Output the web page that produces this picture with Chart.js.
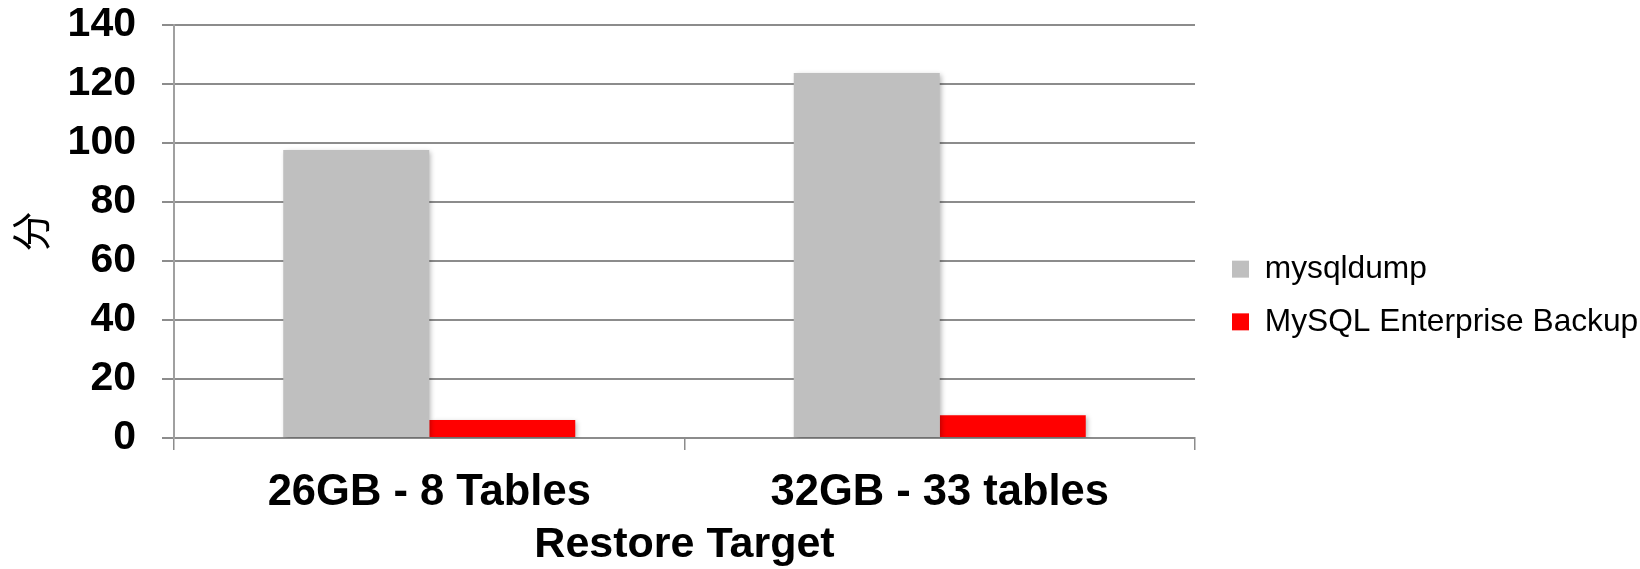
<!DOCTYPE html>
<html>
<head>
<meta charset="utf-8">
<script src="https://cdn.jsdelivr.net/npm/chart.js@4"></script>
<style>
  html, body { margin: 0; padding: 0; background: #fff; }
  #wrap { width: 1640px; height: 569px; }
</style>
</head>
<body>
<div id="wrap"><canvas id="c"></canvas></div>
<script>
const categories = ["26GB - 8 Tables", "32GB - 33 tables"];
const mysqldump = [97.6, 123.7];
const enterpriseBackup = [6.1, 7.7];
const yTicks = [0, 20, 40, 60, 80, 100, 120, 140];

const FONT = "'Liberation Sans', Arial, 'Noto Sans CJK SC', sans-serif";
const GRID = "#8c8c8c";

const barShadow = {
  id: "barShadow",
  beforeDatasetsDraw(chart) {
    const ctx = chart.ctx;
    ctx.save();
    ctx.shadowColor = "rgba(0,0,0,0.28)";
    ctx.shadowBlur = 5;
    ctx.shadowOffsetX = 2;
    ctx.shadowOffsetY = 2;
  },
  afterDatasetsDraw(chart) {
    chart.ctx.restore();
  }
};

// leave some white space between the plot and the legend
const legendGap = {
  id: "legendGap",
  afterLayout(chart) {
    const lg = chart.legend;
    if (!lg) return;
    lg.left += 16;
    lg.right = chart.width;
    lg.width = lg.right - lg.left;
  }
};

new Chart(document.getElementById("c"), {
  type: "bar",
  data: {
    labels: categories,
    datasets: [
      { label: "mysqldump", data: mysqldump, backgroundColor: "#bfbfbf", borderWidth: 0 },
      { label: "MySQL Enterprise Backup", data: enterpriseBackup, backgroundColor: "#ff0000", borderWidth: 0 }
    ]
  },
  plugins: [barShadow, legendGap],
  options: {
    responsive: true,
    maintainAspectRatio: false,
    animation: false,
    layout: { padding: { top: 22, left: 0, right: 0, bottom: 0 } },
    datasets: { bar: { categoryPercentage: 0.572, barPercentage: 1.0 } },
    plugins: {
      tooltip: { enabled: false },
      legend: {
        position: "right",
        align: "center",
        labels: {
          boxWidth: 17,
          boxHeight: 17,
          padding: 21,
          color: "#000",
          font: { family: FONT, size: 31.7 }
        }
      }
    },
    scales: {
      x: {
        afterFit(s) {
          s.height = 131;
          s.paddingRight = 445;
        },
        grid: {
          drawOnChartArea: false,
          drawTicks: true,
          tickLength: 12,
          color: GRID,
          lineWidth: 1.5
        },
        border: { color: GRID, width: 2 },
        ticks: {
          color: "#000",
          padding: 17,
          font: { family: FONT, size: 43.5, weight: "bold" }
        },
        title: {
          display: true,
          text: "Restore Target",
          color: "#000",
          padding: { top: 0, bottom: 0 },
          font: { family: FONT, size: 43, weight: "bold", lineHeight: 1.1 }
        }
      },
      y: {
        min: 0,
        max: 140,
        afterFit(s) {
          s.width = 174;
          s.paddingTop = 25;
          s.paddingBottom = 0;
        },
        afterBuildTicks(scale) {
          scale.ticks = yTicks.map((v) => ({ value: v }));
        },
        grid: {
          color: GRID,
          lineWidth: 2,
          tickLength: 12
        },
        border: { color: "#a0a0a0", width: 2 },
        ticks: {
          color: "#000",
          padding: 26,
          font: { family: FONT, size: 41, weight: "bold" }
        },
        title: {
          display: true,
          text: "分",
          color: "#000",
          padding: { top: 7, bottom: 0 },
          font: { family: "'Noto Sans CJK SC', sans-serif", size: 40, weight: "normal", lineHeight: 1.2 }
        }
      }
    }
  }
});
</script>
</body>
</html>
